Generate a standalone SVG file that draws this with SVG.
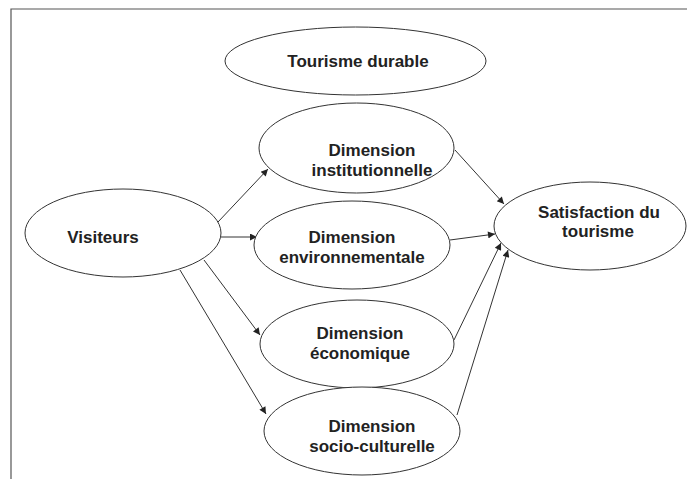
<svg xmlns="http://www.w3.org/2000/svg" width="687" height="479" viewBox="0 0 687 479">
<defs>
<style>
.node ellipse{fill:#fff;stroke:#333;stroke-width:1}
.node text{font-family:"Liberation Sans",Arial,sans-serif;font-weight:bold;font-size:17px;fill:#222;text-anchor:middle}
.conn line{stroke:#333;stroke-width:1;marker-end:url(#ah)}
</style>
<marker id="ah" viewBox="0 0 10 10" refX="10" refY="5" markerWidth="9" markerHeight="7" markerUnits="userSpaceOnUse" orient="auto">
<path d="M0,0 L10,5 L0,10 z" fill="#222"/>
</marker>
</defs>
<rect width="687" height="479" fill="#fff"/>
<path d="M11,479 V9 H687" fill="none" stroke="#555" stroke-width="1.2"/>
<g class="conn">
<line x1="218" y1="222" x2="268" y2="169"/>
<line x1="220" y1="237" x2="257" y2="237"/>
<line x1="204" y1="260" x2="260" y2="335"/>
<line x1="180" y1="270" x2="266" y2="414"/>
<line x1="455" y1="150" x2="504" y2="204"/>
<line x1="450" y1="240" x2="495" y2="234"/>
<line x1="454" y1="340" x2="501" y2="243"/>
<line x1="457" y1="415" x2="508" y2="250"/>
</g>
<g id="tourisme-durable" class="node">
<ellipse cx="355.5" cy="61" rx="130.5" ry="34"/>
<text x="358" y="67">Tourisme durable</text>
</g>
<g id="visiteurs" class="node">
<ellipse cx="123" cy="233" rx="98" ry="44"/>
<text x="103" y="243">Visiteurs</text>
</g>
<g id="dim-institutionnelle" class="node">
<ellipse cx="356.5" cy="148" rx="97.5" ry="45"/>
<text x="372" y="156">Dimension</text>
<text x="372" y="176">institutionnelle</text>
</g>
<g id="dim-environnementale" class="node">
<ellipse cx="352" cy="245" rx="98" ry="44"/>
<text x="352" y="243">Dimension</text>
<text x="352" y="263">environnementale</text>
</g>
<g id="dim-economique" class="node">
<ellipse cx="357" cy="344" rx="97" ry="44"/>
<text x="360" y="339">Dimension</text>
<text x="360" y="359">économique</text>
</g>
<g id="dim-socio-culturelle" class="node">
<ellipse cx="362" cy="431" rx="98" ry="44"/>
<text x="372" y="432">Dimension</text>
<text x="372" y="452">socio-culturelle</text>
</g>
<g id="satisfaction" class="node">
<ellipse cx="590" cy="226" rx="96" ry="44"/>
<text x="599" y="218">Satisfaction du</text>
<text x="598" y="237">tourisme</text>
</g>
</svg>
